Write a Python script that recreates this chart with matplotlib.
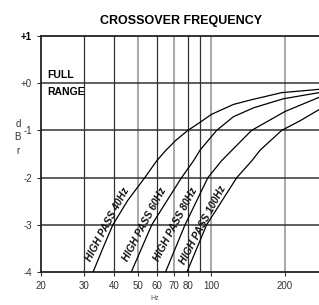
import matplotlib
matplotlib.use('Agg')
import matplotlib.pyplot as plt

plt.rcParams['font.family'] = ['Liberation Sans', 'DejaVu Sans']

# readings (Hz, dB)
hp40_f = [32.7, 35.9, 39.4, 45.4, 53.3, 59.7, 64.8, 71.4, 80, 89.7, 100, 123, 146, 194, 276]
hp40_db = [-4, -3.49, -3, -2.48, -2, -1.64, -1.43, -1.21, -1.0, -0.83, -0.66, -0.45, -0.35, -0.20, -0.13]
hp60_f = [46.9, 56.9, 75.4, 84.5, 89.7, 105, 123, 149, 197, 276]
hp60_db = [-4, -3, -2, -1.64, -1.42, -1.0, -0.71, -0.52, -0.33, -0.2]
hp80_f = [64.8, 77.9, 96.7, 110.1, 121.3, 146, 200, 276]
hp80_db = [-4, -3, -2, -1.64, -1.42, -1.0, -0.6, -0.3]
hp100_f = [79.3, 95.5, 127, 146.5, 158.2, 194, 230, 276]
hp100_db = [-4, -3, -2, -1.64, -1.42, -1.0, -0.8, -0.56]

labels = ['HIGH PASS 40Hz', 'HIGH PASS 60Hz', 'HIGH PASS 80Hz', 'HIGH PASS 100Hz']
label_f = [37.6, 53.3, 71.4, 92]

xticks = [20, 30, 40, 50, 60, 70, 80, 100, 200]
dark_grid = [30, 40, 60, 80, 90]
gray_grid = [50, 70, 100, 200]
yticks = [-4, -3, -2, -1, 0, 1]
ylabels = ['-4', '-3', '-2', '-1', '+0', '+1']

fig = plt.figure(figsize=(3.19, 3.05), dpi=100)
ax = fig.add_axes([0.1285, 0.108, 0.8715, 0.774])
ax.set_xscale('log')
ax.set_xlim(20, 276)
ax.set_ylim(-4, 1)

for g in dark_grid:
    ax.axvline(g, color='#333333', lw=0.9, zorder=1)
for g in gray_grid:
    ax.axvline(g, color='#9a9a9a', lw=1.2, zorder=1)
for g in [-3, -2, -1, 0]:
    ax.axhline(g, color='#333333', lw=1.1, zorder=1)

for f, db in [(hp40_f, hp40_db), (hp60_f, hp60_db), (hp80_f, hp80_db), (hp100_f, hp100_db)]:
    ax.plot(f, db, color='black', lw=0.9, zorder=3)

for lab, f in zip(labels, label_f):
    ax.text(f, -3.0, lab, rotation=62, rotation_mode='anchor', ha='center', va='center',
            fontsize=7.3, fontweight='bold', fontstyle='italic', color='#111111', zorder=4)

ax.text(21.2, 0.07, 'FULL', fontsize=7.5, fontweight='bold', va='bottom', ha='left')
ax.text(21.2, -0.09, 'RANGE', fontsize=7.5, fontweight='bold', va='top', ha='left')

ax.set_xticks(xticks)
ax.set_xticklabels([str(t) for t in xticks])
ax.xaxis.set_minor_locator(matplotlib.ticker.NullLocator())
ax.set_yticks(yticks)
ax.set_yticklabels(ylabels)
ax.tick_params(axis='both', labelsize=7, colors='#333333', length=3, width=0.8)
ax.get_yticklabels()[-1].set_fontweight('bold')
ax.get_yticklabels()[-1].set_color('black')

for s in ['left', 'top', 'bottom']:
    ax.spines[s].set_linewidth(1.3)
    ax.spines[s].set_color('#222222')
ax.spines['right'].set_visible(False)

fig.text(0.567, 0.932, 'CROSSOVER FREQUENCY', ha='center', va='center',
         fontsize=9, fontweight='bold')
fig.text(0.056, 0.55, 'd\nB\nr', ha='center', va='center', fontsize=7,
         color='#333333', linespacing=1.45)
fig.text(0.486, 0.02, 'Hz', ha='center', va='center', fontsize=5, color='#555555')

fig.savefig('out.png', dpi=100)
